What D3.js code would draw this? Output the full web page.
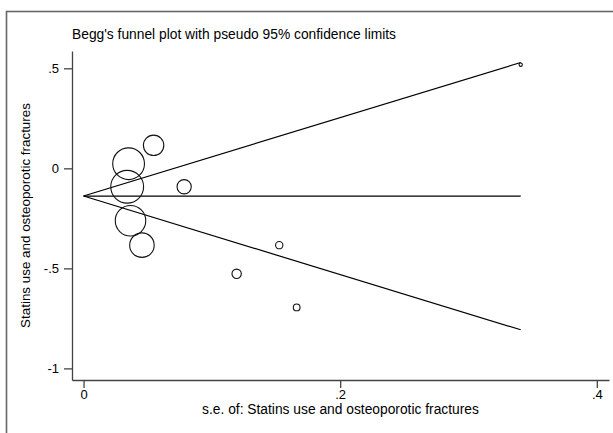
<!DOCTYPE html>
<html>
<head>
<meta charset="utf-8">
<script src="https://cdn.jsdelivr.net/npm/d3@7"></script>
<style>
  body { margin: 0; background: #fff; }
  text { font-family: "Liberation Sans", Arial, sans-serif; fill: #000; }
</style>
</head>
<body>
<div id="graph"></div>
<script>
// studies: standard error and log effect
var se = [0.0546, 0.0351, 0.0340, 0.0784, 0.0366, 0.0455, 0.1525, 0.1193, 0.1661, 0.3407]
var effect = [0.115, 0.023, -0.092, -0.092, -0.262, -0.384, -0.384, -0.527, -0.695, 0.518]

// pseudo 95% limits (ends of the funnel)
var limitSE = [0, 0.3407]
var pooled = [-0.1385, -0.1385]
var upper = [-0.1385, 0.529]
var lower = [-0.1385, -0.807]

// ticks
var xTicks = [0, 0.2, 0.4]
var yTicks = [-1, -0.5, 0, 0.5]

var W = 613, H = 433
var margin = {top: 51, right: 4, bottom: 53, left: 72},
  width = W - margin.left - margin.right,
  height = H - margin.top - margin.bottom;

var svg = d3.select("#graph")
.append("svg")
  .attr("width", W)
  .attr("height", H)

// outer graph border
svg.append("rect")
  .attr("x", 6.5).attr("y", 11.5)
  .attr("width", 640).attr("height", 460)
  .attr("fill", "none")
  .attr("stroke", "#666")
  .attr("stroke-width", 1.6)

svg.append("text")
  .attr("x", 72).attr("y", 39)
  .style("font-size", "13.8px")
  .text("Begg's funnel plot with pseudo 95% confidence limits")

var g = svg.append("g")
  .attr("transform", "translate(" + margin.left + "," + margin.top + ")");

var x = d3.scaleLinear().domain([-0.009, 0.4095]).range([0, width])
var y = d3.scaleLinear().domain([-1.058, 0.5865]).range([height, 0])

// Stata style labels: .5, -.5 (plain hyphen)
var fmt = function(d){ return String(d).replace("0.", ".") }

var yAxis = g.append("g")
  .call(d3.axisLeft(y).tickValues(yTicks).tickSize(8).tickPadding(5).tickFormat(fmt).tickSizeOuter(0))
var xAxis = g.append("g")
  .attr("transform", "translate(0," + height + ")")
  .call(d3.axisBottom(x).tickValues(xTicks).tickSize(8).tickPadding(2).tickFormat(fmt).tickSizeOuter(0))

;[xAxis, yAxis].forEach(function(a){
  a.select(".domain").attr("stroke", "#444").attr("stroke-width", 1.3)
  a.selectAll(".tick line").attr("stroke", "#444").attr("stroke-width", 1.3)
  a.selectAll(".tick text").style("font-size", "13px").attr("fill", "#000")
    .style("font-family", "'Liberation Sans', Arial, sans-serif")
})

// axis titles
svg.append("text")
  .attr("x", margin.left + width/2).attr("y", 414)
  .attr("text-anchor", "middle")
  .style("font-size", "13.8px")
  .text("s.e. of: Statins use and osteoporotic fractures")

svg.append("text")
  .attr("transform", "translate(30," + (margin.top + height/2) + ") rotate(-90)")
  .attr("text-anchor", "middle")
  .style("font-size", "13.4px")
  .text("Statins use and osteoporotic fractures")

// funnel lines
var line = d3.line().x(function(d){ return x(d[0]) }).y(function(d){ return y(d[1]) })
;[pooled, upper, lower].forEach(function(s){
  g.append("path")
    .datum(d3.zip(limitSE, s))
    .attr("d", line)
    .attr("fill", "none")
    .attr("stroke", "#000")
    .attr("stroke-width", 1.2)
})

// marker size from weight 1/se^2
var r = d3.scaleSqrt().domain([0, 1 / (0.034 * 0.034)]).range([0, 16.4])

g.selectAll("circle")
.data(d3.zip(se, effect))
.enter()
.append("circle")
  .attr("cx", function(d){ return x(d[0]) })
  .attr("cy", function(d){ return y(d[1]) })
  .attr("r", function(d){ return r(1 / (d[0] * d[0])) })
  .attr("fill", "none")
  .attr("stroke", "#111")
  .attr("stroke-width", 1.1)
</script>
</body>
</html>
